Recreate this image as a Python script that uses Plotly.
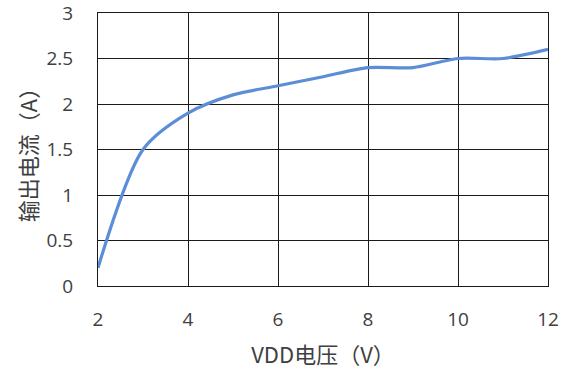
import plotly.graph_objects as go

# VDD supply voltage (V) and measured output current (A)
vdd_voltage = [2, 3, 4, 5, 6, 7, 8, 9, 10, 11, 12]
output_current = [0.2, 1.5, 1.9, 2.1, 2.2, 2.3, 2.4, 2.4, 2.5, 2.5, 2.6]

x_ticks = [2, 4, 6, 8, 10, 12]
y_ticks = [0, 0.5, 1, 1.5, 2, 2.5, 3]

tick_font = dict(family="Open Sans, sans-serif", size=19, color="#404040")
title_font = dict(family="Noto Sans CJK SC, sans-serif", size=22, color="#404040")

fig = go.Figure(
    go.Scatter(
        x=vdd_voltage,
        y=output_current,
        mode="lines",
        line=dict(color="#5B8ED6", width=3.2, shape="spline", smoothing=0.8),
        hoverinfo="skip",
    )
)

fig.update_layout(
    width=563,
    height=376,
    margin=dict(l=98, r=15, t=13, b=90, autoexpand=False),
    paper_bgcolor="white",
    plot_bgcolor="white",
    showlegend=False,
)

fig.update_xaxes(
    range=[2, 12],
    tickvals=x_ticks,
    ticktext=[str(v) for v in x_ticks],
    tickfont=tick_font,
    ticks="",
    ticklabelstandoff=16,
    ticklabeloverflow="allow",
    automargin=False,
    showgrid=True,
    gridcolor="#1a1a1a",
    gridwidth=1,
    zeroline=False,
    showline=True,
    linecolor="#1a1a1a",
    linewidth=1,
    mirror=True,
    title=dict(text="VDD电压（V）", font=title_font, standoff=16),
)

fig.update_yaxes(
    range=[0, 3],
    tickvals=y_ticks,
    ticktext=["0", "0.5", "1", "1.5", "2", "2.5", "3"],
    tickfont=tick_font,
    ticks="",
    ticklabelstandoff=20,
    ticklabeloverflow="allow",
    automargin=False,
    showgrid=True,
    gridcolor="#1a1a1a",
    gridwidth=1,
    zeroline=False,
    showline=True,
    linecolor="#1a1a1a",
    linewidth=1,
    mirror=True,
    title=dict(text="输出电流（A）", font=title_font, standoff=2),
)

fig.write_html("out.html")
